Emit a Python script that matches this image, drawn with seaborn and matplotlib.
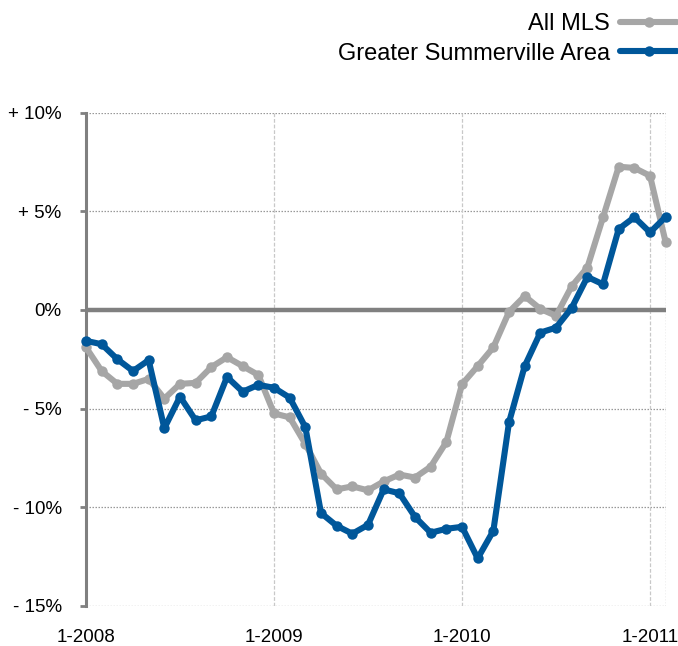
import matplotlib
matplotlib.use("Agg")
import matplotlib.pyplot as plt
import seaborn as sns
import pandas as pd
import numpy as np

months = list(range(38))  # Jan 2008 .. Feb 2011
all_mls = [-1.9, -3.1, -3.75, -3.75, -3.5, -4.5, -3.75, -3.7, -2.9, -2.4,
           -2.85, -3.3, -5.25, -5.45, -6.8, -8.3, -9.1, -8.95, -9.15, -8.7,
           -8.35, -8.5, -7.95, -6.7, -3.77, -2.85, -1.9, -0.1, 0.7, 0.05,
           -0.3, 1.2, 2.15, 4.7, 7.26, 7.2, 6.8, 3.42]
summerville = [-1.57, -1.74, -2.5, -3.1, -2.55, -6.0, -4.4, -5.6, -5.4, -3.4,
               -4.15, -3.8, -3.95, -4.45, -5.95, -10.3, -10.95, -11.35, -10.9, -9.1,
               -9.3, -10.5, -11.3, -11.1, -11.0, -12.6, -11.2, -5.7, -2.85, -1.15,
               -0.9, 0.1, 1.67, 1.3, 4.1, 4.7, 3.93, 4.72]
series_names = ["All MLS", "Greater Summerville Area"]
colors = ["#A6A6A6", "#00579A"]
xtick_pos = [0, 12, 24, 36]
xtick_labels = ["1-2008", "1-2009", "1-2010", "1-2011"]
ytick_pos = [10, 5, 0, -5, -10, -15]
ytick_labels = ["+ 10%", "+ 5%", "0%", "- 5%", "- 10%", "- 15%"]

df = pd.DataFrame({
    "month": months * 2,
    "value": all_mls + summerville,
    "series": [series_names[0]] * len(months) + [series_names[1]] * len(months),
})

sns.set_style("white")
plt.rcParams["font.family"] = ["Liberation Sans", "DejaVu Sans"]
plt.rcParams["text.color"] = "black"
plt.rcParams["xtick.color"] = "black"
plt.rcParams["ytick.color"] = "black"

fig = plt.figure(figsize=(6.78, 6.46), dpi=100)
ax = fig.add_axes([86 / 678, 1 - 605.7 / 646, (665.7 - 86) / 678, (605.7 - 112.7) / 646])

# grid lines
for y in [10, 5, -5, -10, -15]:
    ax.axhline(y, color="#999999", lw=0.9, ls=(0, (1.2, 1.2)), zorder=0)
for x in [12, 24, 36]:
    ax.axvline(x, color="#C8C8C8", lw=0.9, ls=(0, (3, 1.5)), zorder=0)
ax.axvline(37, color="#999999", lw=0.9, ls=(0, (1.2, 1.2)), zorder=0)
ax.axhline(0, color="#808080", lw=3.2, zorder=1)

sns.lineplot(data=df, x="month", y="value", hue="series", hue_order=series_names,
             palette=colors, marker="o", markersize=7.5, markeredgewidth=0,
             linewidth=4.4, ax=ax, zorder=3, legend=True, clip_on=False)

ax.set_xlim(0, 37)
ax.set_ylim(-15, 10)
ax.set_xticks(xtick_pos)
ax.set_xticklabels(xtick_labels, fontsize=13.5)
ax.set_yticks(ytick_pos)
ax.set_yticklabels(ytick_labels, fontsize=13.5)
ax.tick_params(axis="x", length=0, pad=17)
ax.tick_params(axis="y", length=4.5, width=2, color="#808080", labelcolor="black", pad=13, left=True)
ax.set_xlabel("")
ax.set_ylabel("")
for s in ["top", "right", "bottom"]:
    ax.spines[s].set_visible(False)
ax.spines["left"].set_color("#808080")
ax.spines["left"].set_linewidth(2.2)

handles, labels = ax.get_legend_handles_labels()
leg = fig.legend(handles, labels, loc="upper right", bbox_to_anchor=(1.03, 1.012),
                 frameon=False, markerfirst=False, fontsize=17,
                 handlelength=2.4, handletextpad=0.45, labelspacing=0.3)
ax.get_legend().remove()

fig.savefig("out.png", dpi=100)
